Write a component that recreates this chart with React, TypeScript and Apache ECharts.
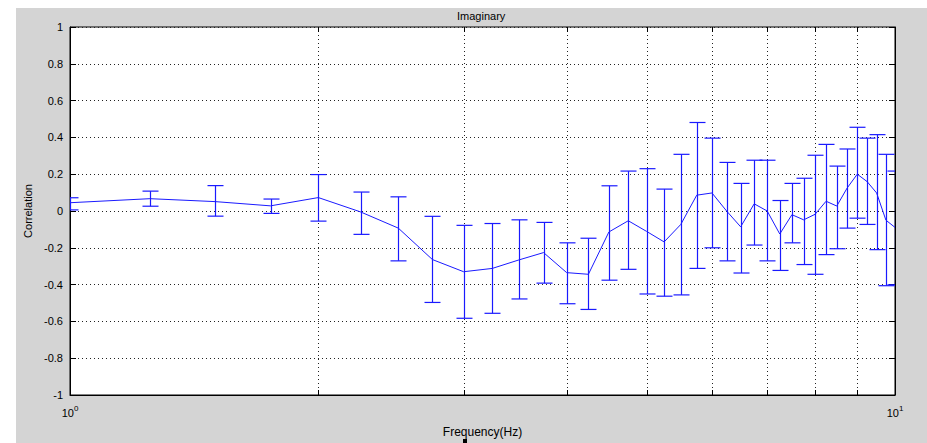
import React, { useEffect, useRef } from "react";
import * as echarts from "echarts";

const freqs = [1, 1.25, 1.5, 1.75, 2, 2.25, 2.5, 2.75, 3, 3.25, 3.5, 3.75, 4, 4.25, 4.5, 4.75, 5, 5.25, 5.5, 5.75, 6, 6.25, 6.5, 6.75, 7, 7.25, 7.5, 7.75, 8, 8.25, 8.5, 8.75, 9, 9.25, 9.5, 9.75, 10];
const means = [0.045, 0.067, 0.051, 0.028, 0.073, -0.005, -0.093, -0.264, -0.33, -0.312, -0.266, -0.226, -0.335, -0.344, -0.114, -0.053, -0.111, -0.168, -0.073, 0.086, 0.098, 0.0, -0.086, 0.039, 0.0, -0.125, -0.02, -0.048, -0.018, 0.053, 0.027, 0.125, 0.2, 0.16, 0.098, -0.05, -0.089];
const upper = [0.072, 0.108, 0.138, 0.065, 0.198, 0.103, 0.077, -0.029, -0.078, -0.068, -0.048, -0.062, -0.173, -0.148, 0.137, 0.217, 0.23, 0.119, 0.308, 0.481, 0.396, 0.264, 0.15, 0.276, 0.276, 0.057, 0.15, 0.178, 0.303, 0.362, 0.244, 0.337, 0.455, 0.396, 0.415, 0.308, 0.217];
const lower = [0.006, 0.026, -0.028, -0.013, -0.055, -0.127, -0.271, -0.497, -0.583, -0.556, -0.478, -0.392, -0.504, -0.535, -0.376, -0.317, -0.451, -0.463, -0.456, -0.312, -0.2, -0.271, -0.337, -0.185, -0.271, -0.323, -0.173, -0.291, -0.344, -0.237, -0.205, -0.093, -0.039, -0.073, -0.21, -0.406, -0.401];
const minorTicks = [2, 3, 4, 5, 6, 7, 8, 9];
const xTickExponents: Record<number, string> = { 1: "0", 10: "1" };

const FONT = "'Liberation Sans', Arial, Helvetica, sans-serif";
const BLUE = "#1a1aff";

export default function App() {
  const ref = useRef<HTMLDivElement>(null);

  useEffect(() => {
    if (!ref.current) return;
    const chart = echarts.init(ref.current, undefined, { renderer: "svg" });

    const option: any = {
      animation: false,
      backgroundColor: "#ffffff",
      textStyle: { fontFamily: FONT },
      title: {
        text: "Imaginary",
        left: 452,
        top: 5,
        textStyle: { fontSize: 11, fontWeight: "normal", color: "#000", fontFamily: FONT },
      },
      graphic: [
        {
          type: "rect",
          z: -10,
          silent: true,
          shape: { x: 16, y: 8, width: 911, height: 435 },
          style: { fill: "#d4d4d4" },
        },
        {
          type: "rect",
          silent: true,
          shape: { x: 463, y: 439, width: 4, height: 4 },
          style: { fill: "#000" },
        },
      ],
      grid: {
        left: 70,
        top: 27,
        right: 32,
        bottom: 43,
        show: true,
        backgroundColor: "#ffffff",
        borderColor: "#000",
        borderWidth: 1,
      },
      xAxis: {
        type: "log",
        logBase: 10,
        min: 1,
        max: 10,
        name: "Frequency(Hz)",
        nameLocation: "middle",
        nameGap: 31,
        nameTextStyle: { fontSize: 12, color: "#000", fontFamily: FONT },
        axisLine: { show: true, onZero: false, lineStyle: { color: "#000", width: 1 } },
        axisTick: { show: false },
        splitLine: { show: false },
        axisLabel: {
          margin: 9,
          color: "#000",
          formatter: (v: number) => {
            const e = xTickExponents[Math.round(v)];
            return e !== undefined ? `{b|10}{s|${e}}` : "";
          },
          rich: {
            b: { fontSize: 11, lineHeight: 14, verticalAlign: "bottom", color: "#000", fontFamily: FONT },
            s: { fontSize: 8, lineHeight: 14, verticalAlign: "top", color: "#000", fontFamily: FONT },
          },
        },
      },
      yAxis: [
        {
          type: "value",
          min: -1,
          max: 1,
          interval: 0.2,
          name: "Correlation",
          nameLocation: "middle",
          nameGap: 35,
          nameTextStyle: { fontSize: 11, color: "#000", fontFamily: FONT },
          axisLine: { show: true, onZero: false, lineStyle: { color: "#000", width: 1 } },
          axisTick: { show: true, inside: true, length: 6, lineStyle: { color: "#000" } },
          axisLabel: { fontSize: 11, color: "#000", margin: 7, fontFamily: FONT },
          splitLine: { show: true, lineStyle: { color: "#222", width: 1, type: [1, 3] } },
        },
        {
          type: "value",
          position: "right",
          min: -1,
          max: 1,
          interval: 0.2,
          axisLine: { show: true, onZero: false, lineStyle: { color: "#000", width: 1 } },
          axisTick: { show: true, inside: true, length: 6, lineStyle: { color: "#000" } },
          axisLabel: { show: false },
          splitLine: { show: false },
        },
      ],
      series: [
        {
          type: "custom",
          name: "minorGrid",
          silent: true,
          z: 1,
          data: minorTicks.map((v) => [v, 0]),
          encode: { x: 0, y: 1 },
          renderItem: (params: any, api: any) => {
            const v = api.value(0);
            const pTop = api.coord([v, 1]);
            const pBot = api.coord([v, -1]);
            const x = Math.round(pTop[0]) + 0.5;
            return {
              type: "group",
              children: [
                {
                  type: "line",
                  shape: { x1: x, y1: pTop[1], x2: x, y2: pBot[1] },
                  style: { stroke: "#222", lineWidth: 1, lineDash: [1, 3] },
                },
                {
                  type: "line",
                  shape: { x1: x, y1: pBot[1], x2: x, y2: pBot[1] - 5 },
                  style: { stroke: "#000", lineWidth: 1 },
                },
                {
                  type: "line",
                  shape: { x1: x, y1: pTop[1], x2: x, y2: pTop[1] + 5 },
                  style: { stroke: "#000", lineWidth: 1 },
                },
              ],
            };
          },
        },
        {
          type: "custom",
          name: "errorbars",
          z: 3,
          clip: true,
          data: freqs.map((f, i) => [f, lower[i], upper[i]]),
          encode: { x: 0, y: [1, 2] },
          renderItem: (params: any, api: any) => {
            const f = api.value(0);
            const pLo = api.coord([f, api.value(1)]);
            const pHi = api.coord([f, api.value(2)]);
            const x = Math.round(pLo[0]) + 0.5;
            const hw = 8;
            const st = { stroke: BLUE, lineWidth: 1.2 };
            return {
              type: "group",
              children: [
                { type: "line", shape: { x1: x, y1: pLo[1], x2: x, y2: pHi[1] }, style: st },
                { type: "line", shape: { x1: x - hw, y1: pLo[1], x2: x + hw, y2: pLo[1] }, style: st },
                { type: "line", shape: { x1: x - hw, y1: pHi[1], x2: x + hw, y2: pHi[1] }, style: st },
              ],
            };
          },
        },
        {
          type: "line",
          name: "mean",
          z: 4,
          showSymbol: false,
          symbol: "none",
          data: freqs.map((f, i) => [f, means[i]]),
          lineStyle: { color: BLUE, width: 1 },
          itemStyle: { color: BLUE },
        },
      ],
    };

    chart.setOption(option);
    return () => chart.dispose();
  }, []);

  return (
    <div style={{ position: "absolute", left: 0, top: 0, width: 927, height: 443 }}>
      <div ref={ref} style={{ width: 927, height: 443 }} />
    </div>
  );
}
